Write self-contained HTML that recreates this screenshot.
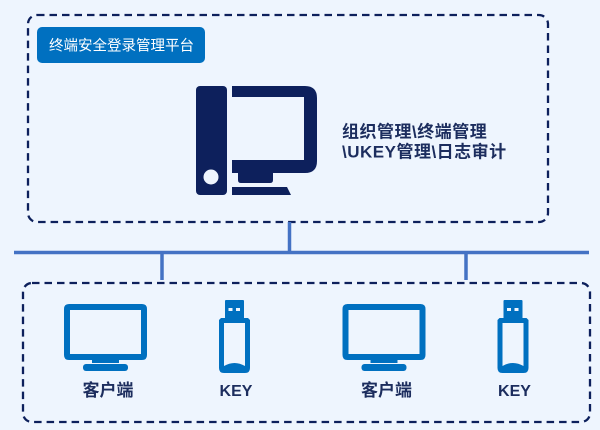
<!DOCTYPE html>
<html><head><meta charset="utf-8"><style>
html,body{margin:0;padding:0;background:#eef5fe;}
svg{display:block;}
</style></head><body>
<svg width="600" height="430" viewBox="0 0 600 430" xmlns="http://www.w3.org/2000/svg">
<rect x="0" y="0" width="600" height="430" fill="#eef5fe"/>
<!-- top dashed box -->
<rect x="28" y="15" width="520" height="207" rx="9" fill="none" stroke="#0d205c" stroke-width="2.3" stroke-dasharray="7.5 5"/>
<!-- label -->
<rect x="37" y="27" width="168" height="36" rx="5" fill="#0070c0"/>
<text x="49" y="50.5" font-family="'Liberation Sans','Noto Sans CJK SC',sans-serif" font-size="14.5" fill="#ffffff">终端安全登录管理平台</text>
<!-- server icon -->
<rect x="196" y="86" width="31" height="109" rx="4" fill="#0d205c"/>
<circle cx="211" cy="177" r="7.5" fill="#eef5fe"/>
<path d="M232,86 H305 Q317,86 317,98 V161 Q317,173 305,173 H232 V160 H304 V97 H232 Z" fill="#0d205c"/>
<path d="M238,173 H273 V180 Q273,183 270,183 H241 Q238,183 238,180 Z" fill="#0d205c"/>
<polygon points="232,187 287,187 291,195 232,195" fill="#0d205c"/>
<!-- right text -->
<text x="342" y="137.5" font-family="'Liberation Sans','Noto Sans CJK SC',sans-serif" font-size="17" font-weight="bold" fill="#1c2d5e" letter-spacing="0.5">组织管理\终端管理</text>
<text x="342" y="157.5" font-family="'Liberation Sans','Noto Sans CJK SC',sans-serif" font-size="17" font-weight="bold" fill="#1c2d5e" letter-spacing="0.5">\UKEY管理\日志审计</text>
<!-- connectors -->
<line x1="289.5" y1="222" x2="289.5" y2="252" stroke="#4472c4" stroke-width="3.5"/>
<line x1="14" y1="252.5" x2="589" y2="252.5" stroke="#4472c4" stroke-width="3.5"/>
<line x1="162" y1="252" x2="162" y2="280" stroke="#4472c4" stroke-width="3.5"/>
<line x1="466" y1="252" x2="466" y2="280" stroke="#4472c4" stroke-width="3.5"/>
<!-- bottom dashed box -->
<rect x="23" y="283" width="567" height="139" rx="9" fill="none" stroke="#0d205c" stroke-width="2.3" stroke-dasharray="7.5 5"/>

<g id="grp" fill="#0070c0">
  <!-- monitor -->
  <path fill-rule="evenodd" d="M69,304 H142 Q147,304 147,309 V355 Q147,360 142,360 H69 Q64,360 64,355 V309 Q64,304 69,304 Z M70,310 V354 H141 V310 Z"/>
  <rect x="92" y="359" width="27" height="4"/>
  <rect x="83" y="364" width="45" height="7" rx="3"/>
  <!-- usb -->
  <rect x="225" y="300" width="19" height="19" rx="1"/>
  <rect x="228.5" y="308" width="4" height="3" fill="#eef5fe"/>
  <rect x="236" y="308" width="4" height="3" fill="#eef5fe"/>
  <path d="M221,318 H248 L250,320 V368 Q250,373 245,373 H224 Q219,373 219,368 V320 Z"/>
  <path d="M224,323 H245 V366 Q234.5,360 224,366 Z" fill="#eef5fe"/>
</g>
<use href="#grp" transform="translate(278.5,0)"/>

<!-- labels -->
<g font-family="'Liberation Sans','Noto Sans CJK SC',sans-serif" font-weight="bold" fill="#1c2d5e" text-anchor="middle">
  <text x="108" y="396" font-size="17">客户端</text>
  <text x="236" y="396" font-size="16">KEY</text>
  <text x="386.5" y="396" font-size="17">客户端</text>
  <text x="514.5" y="396" font-size="16">KEY</text>
</g>
</svg>
</body></html>
